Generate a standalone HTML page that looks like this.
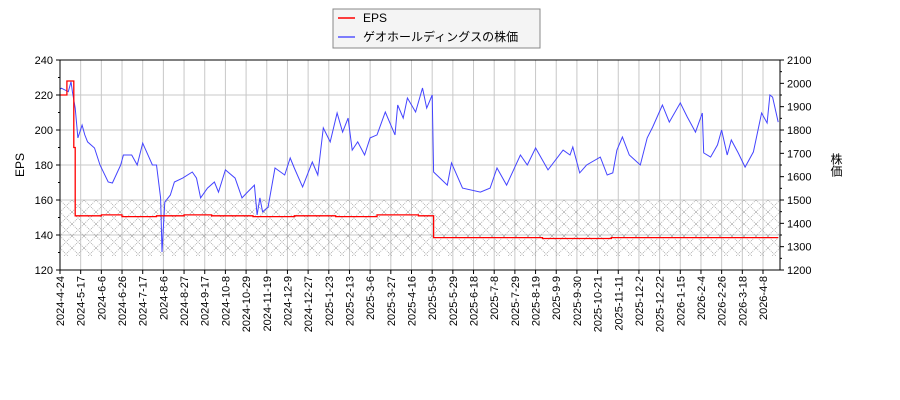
<!DOCTYPE html>
<html><head><meta charset="utf-8"><style>
body{margin:0;background:#fff;}
svg{display:block;font-family:"Liberation Sans","Noto Sans CJK JP",sans-serif;}
</style></head><body>
<svg id="chart" width="900" height="400" viewBox="0 0 900 400" xmlns="http://www.w3.org/2000/svg">
<defs>
<pattern id="hatch" width="12" height="12" patternUnits="userSpaceOnUse" x="60" y="200">
<path d="M0,0 L12,12 M12,0 L0,12" stroke="#999" stroke-width="0.7" stroke-dasharray="1,1" fill="none"/>
</pattern>
</defs>
<g id="grid"></g>
<rect x="60" y="200" width="720" height="56" fill="url(#hatch)"/>
<g id="series"></g>
<rect x="60" y="60" width="720" height="210" fill="none" stroke="#000" stroke-width="1"/>
<g id="axes"></g>
<text x="24" y="165" font-size="12" text-anchor="middle" transform="rotate(-90 24 165)">EPS</text>
<text x="836" y="165" font-size="12" text-anchor="middle" writing-mode="tb">株価</text>
<g>
<rect x="333" y="9" width="207" height="39" fill="#f4f4f4" stroke="#888"/>
<line x1="338" y1="18" x2="355" y2="18" stroke="#f00" stroke-width="1.5"/>
<text x="363" y="22" font-size="12">EPS</text>
<line x1="338" y1="37" x2="355" y2="37" stroke="#5555ff" stroke-width="1.5"/>
<text x="363" y="41" font-size="12">ゲオホールディングスの株価</text>
</g>
</svg>
<script>
const tickLabels=["2024-4-24","2024-5-17","2024-6-6","2024-6-26","2024-7-17","2024-8-6","2024-8-27","2024-9-17","2024-10-8","2024-10-29","2024-11-19","2024-12-9","2024-12-27","2025-1-23","2025-2-13","2025-3-6","2025-3-27","2025-4-16","2025-5-9","2025-5-29","2025-6-18","2025-7-8","2025-7-29","2025-8-19","2025-9-9","2025-9-30","2025-10-21","2025-11-11","2025-12-2","2025-12-22","2026-1-15","2026-2-4","2026-2-26","2026-3-18","2026-4-8"];
const leftTicks=[120,140,160,180,200,220,240];
const rightTicks=[1200,1300,1400,1500,1600,1700,1800,1900,2000,2100];
const priceIdx=[0,1,6,8,9,11,13,16,18,20,25,29,35,38,44,46,52,56,60,67,70,73,74,76,80,83,89,96,99,102,107,112,115,120,127,132,136,141,143,145,147,151,156,163,167,170,176,183,187,191,196,201,205,209,212,216,221,225,230,236,243,245,249,252,258,263,266,270,271,281,284,292,305,312,317,324,334,339,345,354,365,370,372,377,382,392,397,401,404,408,413,421,426,430,437,442,450,455,461,466,467,472,477,480,484,487,492,497,503,509,513,515,517,521];
const priceVal=[1975,1979,1964,2007,1964,1894,1766,1821,1779,1749,1723,1650,1577,1573,1650,1693,1693,1650,1744,1650,1650,1509,1277,1491,1521,1577,1594,1620,1594,1509,1551,1577,1534,1629,1594,1509,1534,1564,1436,1509,1449,1470,1637,1607,1680,1637,1556,1663,1607,1809,1749,1873,1791,1851,1714,1749,1693,1766,1779,1877,1779,1907,1851,1937,1877,1980,1894,1950,1620,1564,1659,1551,1534,1551,1637,1564,1693,1650,1723,1629,1714,1693,1727,1616,1650,1684,1607,1616,1714,1770,1693,1650,1766,1813,1907,1834,1916,1856,1791,1873,1702,1684,1736,1800,1693,1757,1702,1641,1706,1873,1830,1950,1941,1834];
const epsIdx=[0,5,10,11,30,45,70,90,110,140,170,200,230,260,270,271,300,350,400,450,500,521];
const epsVal=[220,228,190,151,151.5,150.5,151,151.5,151,150.5,151,150.5,151.5,151,151,138.5,138.5,138,138.5,138.5,138.5,138.5];

const NS="http://www.w3.org/2000/svg";
const X0=60,X1=780,Y0=60,Y1=270,TICKW=(763-60)/34;
const xS=i=>X0+i*TICKW/15;
const yL=v=>Y1-(v-120)/(240-120)*(Y1-Y0);
const yR=v=>Y1-(v-1200)/(2100-1200)*(Y1-Y0);
function mk(t,a,p){const e=document.createElementNS(NS,t);for(const k in a)e.setAttribute(k,a[k]);p.appendChild(e);return e;}
const grid=document.getElementById('grid'),axes=document.getElementById('axes'),series=document.getElementById('series');
tickLabels.forEach((lab,i)=>{
 const x=xS(i*15);
 const g=mk('line',{x1:x,y1:Y0,x2:x,y2:Y1,stroke:'#c8c8c8','stroke-width':1},grid);
 
 
 const t=mk('line',{x1:x,y1:Y1,x2:x,y2:Y1+4,stroke:'#000'},axes);
 
 
 const tx=mk('text',{x:x+4,y:Y1+6,'font-size':11,'text-anchor':'end',transform:`rotate(-90 ${x+4} ${Y1+6})`},axes);
 tx.textContent=lab;
 
 
});
leftTicks.forEach(v=>{
 const y=yL(v);
 const g=mk('line',{x1:X0,y1:y,x2:X1,y2:y,stroke:'#c8c8c8','stroke-width':1},grid);
 
 
 mk('line',{x1:X0-4,y1:y,x2:X0,y2:y,stroke:'#000'},axes);
 const tx=mk('text',{x:X0-7,y:y+4,'font-size':11,'text-anchor':'end'},axes);
 tx.textContent=v;
 
 
});
for(let v=130;v<240;v+=20){const y=yL(v);mk('line',{x1:X0-2,y1:y,x2:X0,y2:y,stroke:'#000'},axes);}
rightTicks.forEach(v=>{
 const y=yR(v);
 mk('line',{x1:X1,y1:y,x2:X1+4,y2:y,stroke:'#000'},axes);
 const tx=mk('text',{x:X1+7,y:y+4,'font-size':11},axes);
 tx.textContent=v;
 
 
});
for(let v=1250;v<2100;v+=100){const y=yR(v);mk('line',{x1:X1,y1:y,x2:X1+2,y2:y,stroke:'#000'},axes);}
const pp=priceIdx.map((d,i)=>xS(d).toFixed(1)+','+yR(priceVal[i]).toFixed(1)).join(' ');
const pl=mk('polyline',{points:pp,fill:'none',stroke:'#4444ff','stroke-width':1},series);


let ep=[];
epsIdx.forEach((d,i)=>{if(i>0)ep.push(xS(d).toFixed(1)+','+yL(epsVal[i-1]).toFixed(1));ep.push(xS(d).toFixed(1)+','+yL(epsVal[i]).toFixed(1));});
const el=mk('polyline',{points:ep.join(' '),fill:'none',stroke:'#f00','stroke-width':1.3},series);


</script>
</body></html>
